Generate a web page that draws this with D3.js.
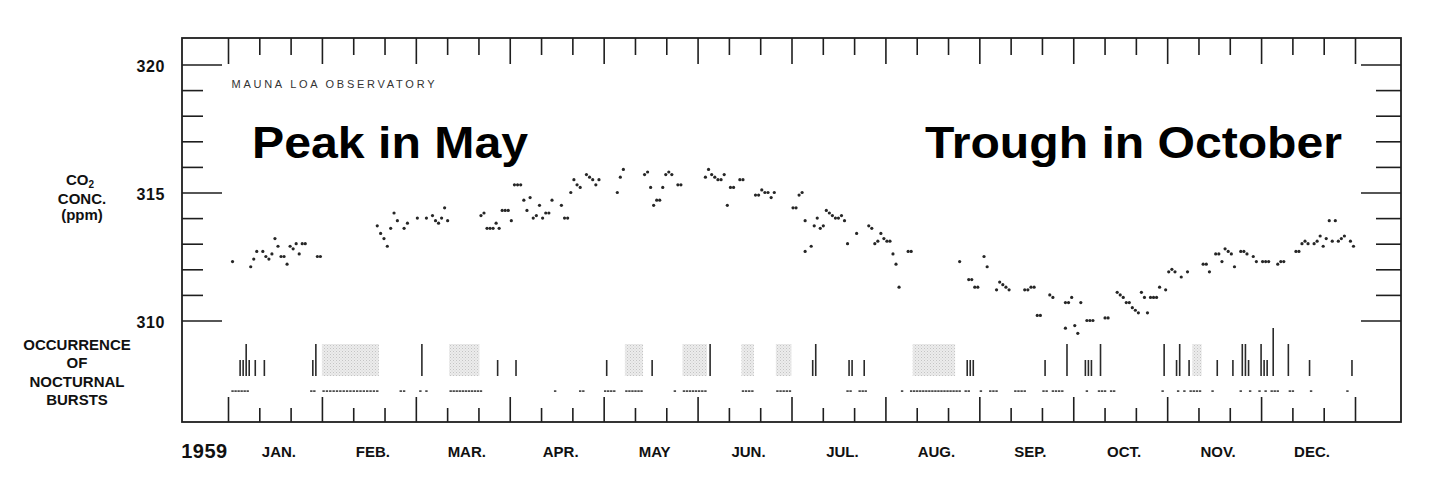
<!DOCTYPE html>
<html><head><meta charset="utf-8">
<script src="https://cdn.jsdelivr.net/npm/d3@7"></script>
<style>html,body{margin:0;padding:0;background:#fff;} svg{display:block;}</style>
</head><body><svg id="c" width="1456" height="478"></svg>
<script>
// ---------------- DATA ----------------
const year = 1959;
const monthLabels = ["JAN.","FEB.","MAR.","APR.","MAY","JUN.","JUL.","AUG.","SEP.","OCT.","NOV.","DEC."];
const yMajorTicks = [310, 315, 320];
const yMinorTicks = [311, 312, 313, 314, 316, 317, 318, 319];

// day of year (1 = Jan 1) and CO2 concentration (ppm)
const co2Days = [
  2,8,9,10,12,13,14,15,16,17,18,19,20,21,22,23,24,25,26,30,31,
  48,49,50,51,52,53,54,56,57,
  60,63,65,66,67,68,69,70,81,82,83,84,85,86,87,88,89,90,
  91,92,93,94,95,96,97,98,99,100,101,102,103,104,107,108,109,110,111,112,113,115,116,117,118,119,
  125,126,127,134,135,136,137,138,139,140,141,142,143,145,146,
  154,155,156,157,158,159,160,161,162,163,165,166,170,171,172,173,174,175,176,
  182,183,184,185,186,186,188,189,190,191,192,193,194,195,196,197,198,199,200,203,207,208,209,210,211,212,
  213,214,215,216,217,220,221,237,240,241,242,243,
  245,246,249,250,251,252,253,258,259,260,261,262,263,266,267,271,271,272,273,
  274,275,276,278,279,280,284,285,288,289,290,291,292,293,294,295,296,297,298,299,300,301,302,304,
  305,306,307,309,311,316,317,318,320,321,322,323,324,325,326,328,329,330,332,333,
  335,336,337,340,341,342,346,347,348,349,350,352,353,354,355,356,357,358,359,360,361,362,364,365
];
const co2Ppm = [
  312.3,312.1,312.4,312.7,312.7,312.5,312.4,312.6,313.2,312.9,312.5,312.5,312.2,312.9,312.8,313.0,312.6,313.0,313.0,312.5,312.5,
  313.7,313.4,313.2,312.9,313.6,314.2,313.9,313.6,313.8,
  314.0,314.0,314.1,313.9,313.8,314.0,314.4,313.9,314.1,314.2,313.6,313.6,313.6,313.8,313.6,314.3,314.3,314.3,
  313.9,315.3,315.3,315.3,314.7,314.3,314.8,314.0,314.1,314.5,314.0,314.2,314.2,314.7,314.5,314.0,314.0,315.0,315.5,315.3,315.2,315.7,315.6,315.5,315.3,315.5,
  315.0,315.6,315.9,315.7,315.8,315.2,314.5,314.7,314.7,315.2,315.7,315.8,315.7,315.3,315.3,
  315.6,315.9,315.7,315.6,315.5,315.5,315.7,314.5,315.2,315.2,315.5,315.5,314.9,314.9,315.1,315.0,315.0,314.8,315.0,
  314.4,314.4,314.9,315.0,313.9,312.7,312.9,313.7,314.0,313.6,313.7,314.3,314.2,314.1,314.0,314.0,314.1,313.9,313.0,313.4,313.7,313.6,313.0,313.1,313.4,313.2,
  313.1,313.1,312.6,312.2,311.3,312.7,312.7,312.3,311.6,311.6,311.3,311.3,
  312.5,312.1,311.2,311.5,311.4,311.3,311.2,311.2,311.2,311.3,311.3,310.2,310.2,311.0,310.9,310.7,309.7,310.7,310.9,
  309.8,309.5,310.7,310.0,310.0,310.0,310.1,310.1,311.1,311.0,310.9,310.7,310.7,310.5,310.4,310.3,311.1,310.9,310.3,310.9,310.9,310.9,311.3,311.2,
  311.9,312.0,311.9,311.7,311.9,312.2,312.2,311.9,312.6,312.6,312.3,312.8,312.7,312.6,312.1,312.7,312.7,312.6,312.5,312.3,
  312.3,312.3,312.3,312.2,312.3,312.3,312.7,312.7,313.0,313.1,313.0,313.0,313.1,313.3,312.9,313.2,313.9,313.1,313.9,313.1,313.2,313.3,313.1,312.9
];

// nocturnal bursts: night after day-of-year, and relative strength (1 short, 2 tall, 3 very tall)
const burstDays   = [4,5,6,7,9,12,28,29,61,86,92,121,136,155,188,189,200,201,205,239,240,241,264,271,277,278,279,282,303,307,308,311,320,325,328,329,330,334,335,336,338,343,350,364];
const burstLevels = [1,1,2,1,1,1,1,2,2,1,1,1,1,2,1,2,1,1,1,1,1,1,1,2,1,1,1,2,2,1,2,1,1,1,2,2,1,2,1,1,3,2,1,1];

// shaded (stippled) periods
const shadedStart = [32,71,128,147,166,177,222,313];
const shadedEnd   = [48,80,133,154,169,181,235,315];

// dotted record row (day ranges)
const recordStart = [2,28,32,55,61,63,71,105,113,121,128,144,147,166,177,200,204,218,221,239,244,247,255,264,267,278,282,286,303,308,310,312,319,328,331,334,336,338,344,351,363];
const recordEnd   = [7,29,48,56,61,63,81,105,114,124,133,144,154,169,181,201,206,218,237,240,244,249,258,265,270,278,284,287,303,308,310,315,319,328,331,334,336,340,345,351,363];

// ---------------- LAYOUT ----------------
const svg = d3.select("#c");
const frame = {left:182, right:1401, top:38, bottom:422};
const plotX0 = 228, plotX1 = 1355;
const ink = "#1e1e1e";
const font = "'Liberation Sans', Arial, sans-serif";

svg.append("rect").attr("width",1456).attr("height",478).attr("fill","#fff");

const monthStarts = d3.range(13).map(m => new Date(year, m, 1));
const x = d3.scaleTime()
  .domain(monthStarts)
  .range(monthStarts.map((d,i) => plotX0 + i*(plotX1-plotX0)/12));
const y = d3.scaleLinear().domain([310,320]).range([320.5, 64.5]);
const yb = d3.scaleLinear().domain([0,3]).range([376, 328]);
const dayDate = (d,h) => new Date(year, 0, d, h);

// month thirds
const thirds = [];
for (let m=0;m<12;m++){
  const t0 = +monthStarts[m], t1 = +monthStarts[m+1];
  for (let k=1;k<=2;k++) thirds.push(new Date(t0 + k*(t1-t0)/3));
}

function styleAxis(g){
  g.select(".domain").remove();
  g.selectAll(".tick line").attr("stroke", ink).attr("stroke-width", 1.6);
  g.selectAll(".tick text").remove();
}

// frame
svg.append("rect")
  .attr("x",frame.left).attr("y",frame.top)
  .attr("width",frame.right-frame.left).attr("height",frame.bottom-frame.top)
  .attr("fill","none").attr("stroke",ink).attr("stroke-width",1.8);

// x ticks bottom (pointing up)
svg.append("g").attr("transform",`translate(0,${frame.bottom})`)
  .call(d3.axisTop(x).tickValues(monthStarts).tickSize(25).tickFormat("")).call(styleAxis);
svg.append("g").attr("transform",`translate(0,${frame.bottom})`)
  .call(d3.axisTop(x).tickValues(thirds).tickSize(14).tickFormat("")).call(styleAxis);
// x ticks top (pointing down)
svg.append("g").attr("transform",`translate(0,${frame.top})`)
  .call(d3.axisBottom(x).tickValues(monthStarts).tickSize(26).tickFormat("")).call(styleAxis);
svg.append("g").attr("transform",`translate(0,${frame.top})`)
  .call(d3.axisBottom(x).tickValues(thirds).tickSize(17).tickFormat("")).call(styleAxis);

// y ticks left
svg.append("g").attr("transform",`translate(${frame.left},0)`)
  .call(d3.axisRight(y).tickValues(yMajorTicks).tickSize(40).tickFormat("")).call(styleAxis);
svg.append("g").attr("transform",`translate(${frame.left},0)`)
  .call(d3.axisRight(y).tickValues(yMinorTicks).tickSize(21).tickFormat("")).call(styleAxis);
// y ticks right
svg.append("g").attr("transform",`translate(${frame.right},0)`)
  .call(d3.axisLeft(y).tickValues(yMajorTicks).tickSize(40).tickFormat("")).call(styleAxis);
svg.append("g").attr("transform",`translate(${frame.right},0)`)
  .call(d3.axisLeft(y).tickValues(yMinorTicks).tickSize(25).tickFormat("")).call(styleAxis);

// y labels
svg.append("g").selectAll("text").data(yMajorTicks).join("text")
  .attr("x", 165).attr("y", d => y(d) + 7)
  .attr("text-anchor","end").attr("font-family",font).attr("font-weight","bold")
  .attr("font-size",16).attr("letter-spacing",0.6).attr("fill","#111")
  .text(d => d);

// month labels
svg.append("g").selectAll("text").data(monthLabels).join("text")
  .attr("x",(d,i) => (x(monthStarts[i]) + x(monthStarts[i+1]))/2 + 4)
  .attr("y",457)
  .attr("text-anchor","middle").attr("font-family",font).attr("font-weight","bold")
  .attr("font-size",15).attr("fill","#111")
  .text(d => d);
svg.append("text").attr("x",204.5).attr("y",458).attr("text-anchor","middle")
  .attr("font-family",font).attr("font-weight","bold").attr("font-size",20).attr("fill","#111")
  .attr("letter-spacing",0.5).text(year);

// left axis title
const co2t = svg.append("text").attr("x",80).attr("y",185).attr("text-anchor","middle")
  .attr("font-family",font).attr("font-weight","bold").attr("font-size",15).attr("fill","#111");
co2t.append("tspan").text("CO");
co2t.append("tspan").attr("font-size",10).attr("dy",3).text("2");
[["CONC.",203.5],["(ppm)",219.5]].forEach(([t,yy]) => {
  svg.append("text").attr("x",82).attr("y",yy).attr("text-anchor","middle")
    .attr("font-family",font).attr("font-weight","bold").attr("font-size",15).attr("fill","#111").text(t);
});
[["OCCURRENCE",350],["OF",368],["NOCTURNAL",386.5],["BURSTS",405]].forEach(([t,yy]) => {
  svg.append("text").attr("x",77).attr("y",yy).attr("text-anchor","middle")
    .attr("font-family",font).attr("font-weight","bold").attr("font-size",15).attr("fill","#111").text(t);
});

// inner caption
svg.append("text").attr("x",231.5).attr("y",87.5)
  .attr("font-family",font).attr("font-size",11).attr("fill","#333")
  .attr("textLength",203).attr("lengthAdjust","spacing")
  .text("MAUNA LOA OBSERVATORY");

// annotations
svg.append("text").attr("x",252).attr("y",158)
  .attr("font-family",font).attr("font-weight","bold").attr("font-size",44).attr("fill","#000")
  .attr("textLength",276).attr("lengthAdjust","spacingAndGlyphs").text("Peak in May");
svg.append("text").attr("x",925).attr("y",158)
  .attr("font-family",font).attr("font-weight","bold").attr("font-size",44).attr("fill","#000")
  .attr("textLength",417).attr("lengthAdjust","spacingAndGlyphs").text("Trough in October");

// stipple pattern
const defs = svg.append("defs");
const pat = defs.append("pattern").attr("id","stip").attr("patternUnits","userSpaceOnUse")
  .attr("width",3).attr("height",3);
pat.append("rect").attr("width",3).attr("height",3).attr("fill","#ececec");
pat.append("rect").attr("x",0).attr("y",0).attr("width",1).attr("height",1).attr("fill","#c4c4c4");
pat.append("rect").attr("x",1.5).attr("y",1.5).attr("width",1).attr("height",1).attr("fill","#d2d2d2");

// shaded periods
svg.append("g").selectAll("rect").data(d3.range(shadedStart.length)).join("rect")
  .attr("x", i => x(dayDate(shadedStart[i],0)))
  .attr("width", i => x(dayDate(shadedEnd[i],24)) - x(dayDate(shadedStart[i],0)))
  .attr("y", yb(2)).attr("height", yb(0)-yb(2))
  .attr("fill","url(#stip)");

// bursts
svg.append("g").selectAll("line").data(d3.range(burstDays.length)).join("line")
  .attr("x1", i => x(dayDate(burstDays[i],24))).attr("x2", i => x(dayDate(burstDays[i],24)))
  .attr("y1", yb(0)).attr("y2", i => yb(burstLevels[i]))
  .attr("stroke","#2a2a2a").attr("stroke-width",1.6);

// record row
const recDays = [];
recordStart.forEach((s,i) => { for (let d=s; d<=recordEnd[i]; d++) recDays.push(d); });
svg.append("g").selectAll("rect").data(recDays).join("rect")
  .attr("x", d => x(dayDate(d,12)) - 1.2).attr("y", 390.3)
  .attr("width", 2.4).attr("height", 1.6).attr("fill","#3a3a3a");

// CO2 dots
svg.append("g").selectAll("circle").data(d3.range(co2Days.length)).join("circle")
  .attr("cx", i => x(dayDate(co2Days[i],12)))
  .attr("cy", i => y(co2Ppm[i]))
  .attr("r", 1.6).attr("fill","#262626");
</script></body></html>
